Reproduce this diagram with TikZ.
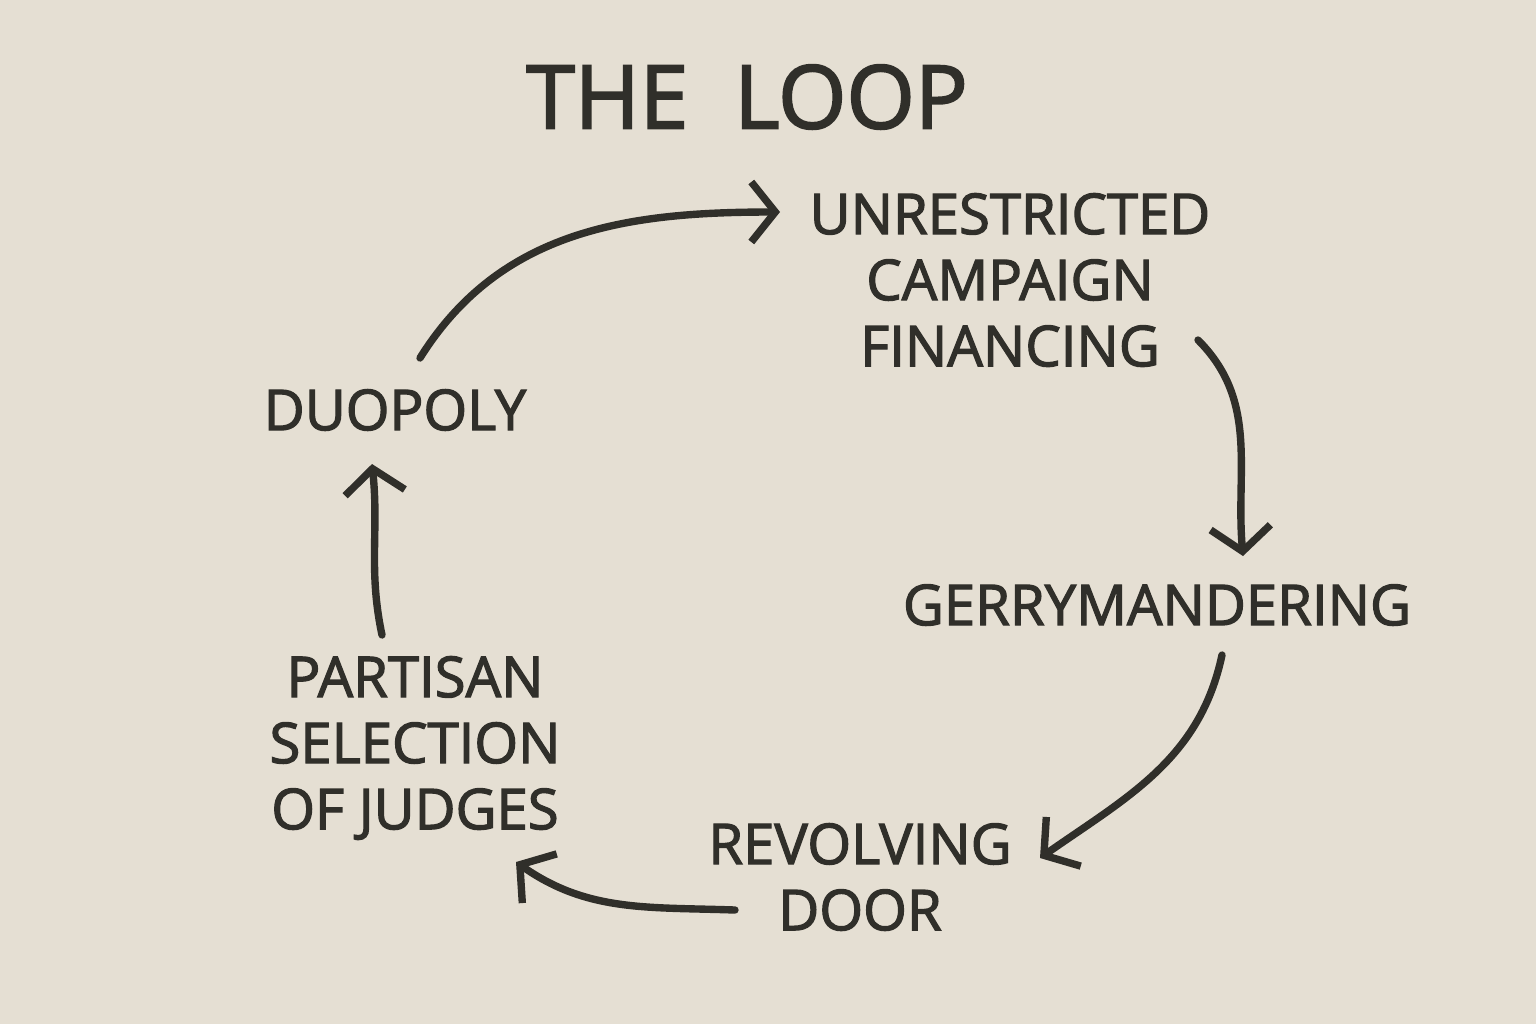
\documentclass[tikz,border=0pt]{standalone}
\usepackage{fontspec}
\setmainfont{Open Sans}[RawFeature={embolden=2.2}]
\usetikzlibrary{arrows.meta}
\definecolor{paper}{HTML}{E5DFD3}
\definecolor{ink}{HTML}{302F2A}
\tikzset{
	label/.style  = {text=ink, align=center, font=\fontsize{16}{18.8}\selectfont},
	title/.style  = {text=ink, font=\fontsize{25}{28}\selectfont},
	curve/.style  = {draw=ink, line width=2.1pt, line cap=round,
		-{Straight Barb[length=2.4mm, width=6mm, line width=2.1pt]}},
}
\begin{document}
\begin{tikzpicture}
	\fill[paper] (0,0) rectangle (15.36,-10.24);
	\useasboundingbox (0,0) rectangle (15.36,-10.24);

	\node[title] (loop) at (7.47,-0.97) {THE\ \ LOOP};

	\node[label] (finance) at (10.10,-2.80) {UNRESTRICTED\\CAMPAIGN\\FINANCING};
	\node[label] (duopoly) at (3.95,-4.10) {DUOPOLY};
	\node[label] (gerry)   at (11.57,-6.05) {GERRYMANDERING};
	\node[label] (judges)  at (4.15,-7.48) {PARTISAN\\SELECTION\\OF JUDGES};
	\node[label] (door)    at (8.60,-8.77) {REVOLVING\\DOOR};

	% arrow ends
	\coordinate (a1) at (4.20,-3.58);  \coordinate (b1) at (7.80,-2.12);
	\coordinate (a2) at (11.98,-3.40); \coordinate (b2) at (12.43,-5.56);
	\coordinate (a3) at (12.22,-6.55); \coordinate (b3) at (10.40,-8.58);
	\coordinate (a4) at (7.35,-9.10);  \coordinate (b4) at (5.16,-8.62);
	\coordinate (a5) at (3.82,-6.35);  \coordinate (b5) at (3.72,-4.64);

	\draw [curve] (a1) to[out=58, in=180] (b1);
	\draw [curve] (a2) to[out=-45, in=95] (b2);
	\draw [curve] (a3) to[out=-102, in=35] (b3);
	\draw [curve] (a4) to[out=178, in=-35] (b4);
	\draw [curve] (a5) to[out=102, in=-84] (b5);
\end{tikzpicture}
\end{document}
